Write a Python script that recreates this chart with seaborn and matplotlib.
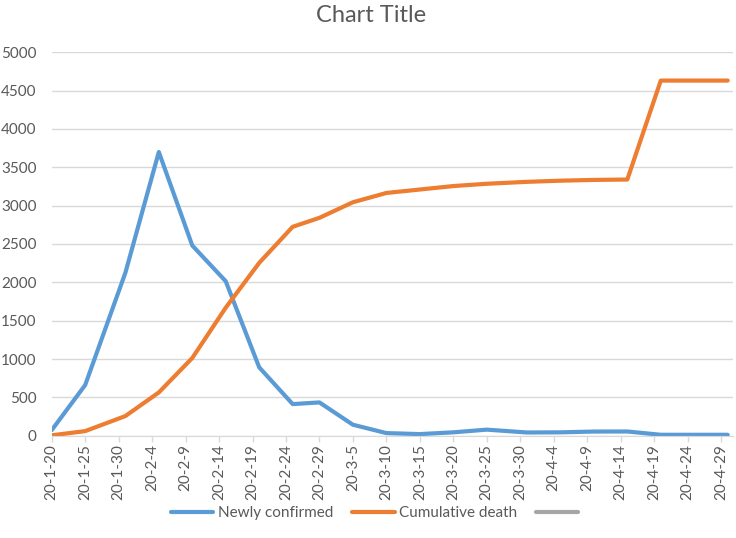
import matplotlib
matplotlib.use("Agg")
import matplotlib.pyplot as plt
from matplotlib.lines import Line2D
import seaborn as sns
import pandas as pd

# Data (date axis, points at these days)
dates = ["2020-01-20", "2020-01-25", "2020-01-31", "2020-02-05", "2020-02-10",
         "2020-02-15", "2020-02-20", "2020-02-25", "2020-02-29", "2020-03-05",
         "2020-03-10", "2020-03-15", "2020-03-20", "2020-03-25", "2020-03-31",
         "2020-04-05", "2020-04-10", "2020-04-15", "2020-04-20", "2020-04-25",
         "2020-04-30"]
newly_confirmed = [74, 662, 2124, 3699, 2480, 2014, 892, 413, 435, 144, 35, 22,
                   45, 80, 43, 45, 55, 56, 13, 13, 13]
cumulative_death = [6, 61, 257, 565, 1014, 1670, 2254, 2724, 2841, 3044, 3165, 3210,
                    3255, 3285, 3310, 3325, 3335, 3340, 4630, 4630, 4630]
tick_labels = ["20-1-20", "20-1-25", "20-1-30", "20-2-4", "20-2-9", "20-2-14",
               "20-2-19", "20-2-24", "20-2-29", "20-3-5", "20-3-10", "20-3-15",
               "20-3-20", "20-3-25", "20-3-30", "20-4-4", "20-4-9", "20-4-14",
               "20-4-19", "20-4-24", "20-4-29"]

blue, orange, gray = "#5B9BD5", "#ED7D31", "#A5A5A5"
text_col = "#595959"

sns.set_style("white")
plt.rcParams["font.family"] = ["Lato", "DejaVu Sans"]

df = pd.DataFrame({"date": pd.to_datetime(dates),
                   "Newly confirmed": newly_confirmed,
                   "Cumulative death": cumulative_death})
tick_pos = pd.to_datetime(["20" + t for t in tick_labels], format="%Y-%m-%d")

fig = plt.figure(figsize=(7.36, 5.38), dpi=100)
ax = fig.add_axes([0.0703, 0.19, 0.9257, 0.713])

sns.lineplot(data=df, x="date", y="Newly confirmed", color=blue, linewidth=3,
             sort=False, ax=ax)
sns.lineplot(data=df, x="date", y="Cumulative death", color=orange, linewidth=3,
             sort=False, ax=ax)

start = pd.Timestamp("2020-01-20")
ax.set_xlim(start, start + pd.Timedelta(days=101.8))
ax.set_ylim(0, 5000)
ax.set_yticks(range(0, 5001, 500))
ax.set_xticks(tick_pos)
ax.set_xticklabels(tick_labels, rotation=90)
ax.set_xlabel("")
ax.set_ylabel("")

ax.grid(axis="y", color="#D9D9D9", linewidth=1)
ax.set_axisbelow(True)
for side in ["top", "right", "left"]:
    ax.spines[side].set_visible(False)
ax.spines["bottom"].set_color("#D9D9D9")
ax.tick_params(axis="x", colors=text_col, labelsize=11, length=4, width=1,
               color="#D9D9D9", direction="out", pad=2, bottom=True)
ax.tick_params(axis="y", colors=text_col, labelsize=11, length=0, pad=11)

fig.text(0.504, 0.972, "Chart Title", fontsize=17, color=text_col,
         ha="center", va="center")

handles = [Line2D([], [], color=blue, linewidth=3),
           Line2D([], [], color=orange, linewidth=3),
           Line2D([], [], color=gray, linewidth=3)]
fig.legend(handles, ["Newly confirmed", "Cumulative death", ""],
           loc="center", bbox_to_anchor=(0.512, 0.046), ncol=3, frameon=False,
           fontsize=11, labelcolor=text_col, handlelength=2.8, columnspacing=1.2,
           handletextpad=0.3)

fig.savefig("out.png", dpi=100)
